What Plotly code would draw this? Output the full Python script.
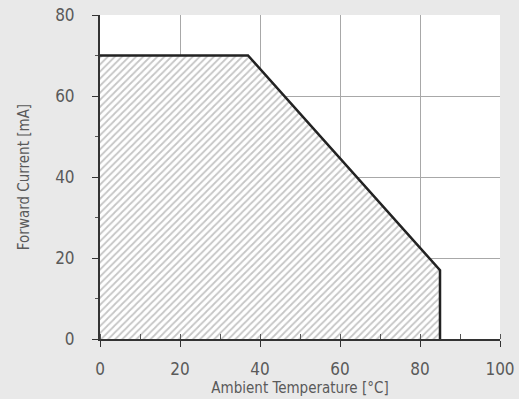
import plotly.graph_objects as go

temp = [0, 37, 85, 85]
current = [70, 70, 17, 0]
x_ticks = [0, 20, 40, 60, 80, 100]
y_ticks = [0, 20, 40, 60, 80]

fill_x = [0] + temp + [0]
fill_y = [0] + current + [0]

fig = go.Figure()
fig.add_trace(go.Scatter(
    x=fill_x, y=fill_y, mode="lines", fill="toself",
    line=dict(width=0, color="rgba(0,0,0,0)"),
    fillcolor="white",
    fillpattern=dict(shape="/", fgcolor="#8c8c8c", bgcolor="white", size=5, solidity=0.35),
    hoverinfo="skip", showlegend=False))
fig.add_trace(go.Scatter(
    x=temp, y=current, mode="lines",
    line=dict(color="#222222", width=2.5),
    showlegend=False))

font = dict(family="DejaVu Sans Condensed, Liberation Sans Narrow, sans-serif", color="#5a5a5a")
fig.update_layout(
    width=519, height=399,
    margin=dict(l=100, r=19, t=15, b=60),
    paper_bgcolor="#e9e9e9", plot_bgcolor="white",
    font=font,
    xaxis=dict(range=[0, 100], tickvals=x_ticks, showgrid=True, gridcolor="#a8a8a8", gridwidth=1,
               zeroline=False, showline=True, linecolor="#333333", linewidth=2,
               ticks="outside", ticklen=6, tickcolor="#333333", automargin=False,
               ticklabelstandoff=8,
               minor=dict(dtick=10, ticks="inside", ticklen=5, tickcolor="#555555", showgrid=False),
               tickfont=dict(size=17), title=dict(text="Ambient Temperature [°C]", font=dict(size=15), standoff=4)),
    yaxis=dict(range=[0, 80], tickvals=y_ticks, showgrid=True, gridcolor="#a8a8a8", gridwidth=1,
               zeroline=False, showline=True, linecolor="#333333", linewidth=2,
               ticks="outside", ticklen=6, tickcolor="#333333", automargin=False,
               ticklabelstandoff=14,
               minor=dict(dtick=10, ticks="outside", ticklen=3, tickcolor="#555555", showgrid=False),
               tickfont=dict(size=17), title=dict(text="Forward Current [mA]", font=dict(size=15), standoff=22)),
)
fig.write_html("out.html", config={"displayModeBar": False},
               post_script="document.body.style.margin='0';document.body.style.background='#e9e9e9';")
